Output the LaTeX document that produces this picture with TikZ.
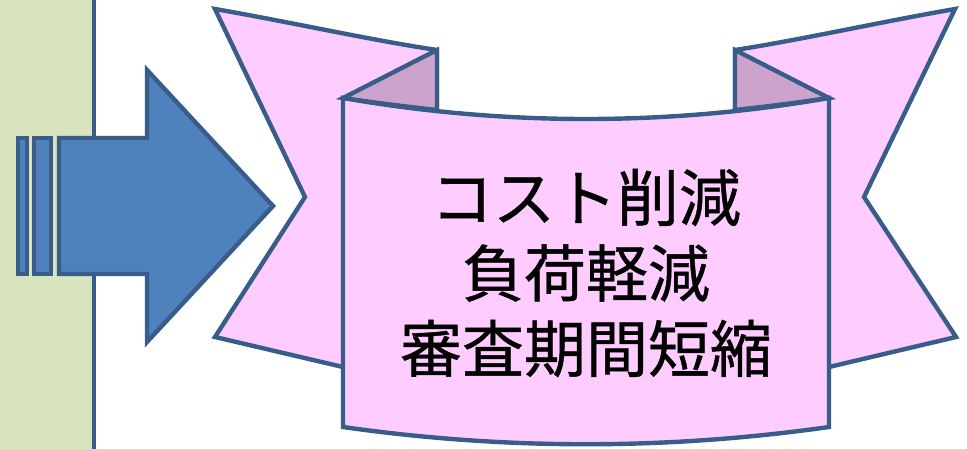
\documentclass[tikz,border=0pt]{standalone}
\usepackage{fontspec}
\newfontfamily\cjk[FakeBold=0.7]{Noto Sans CJK JP}
\definecolor{panelgreen}{HTML}{D7E4BD}
\definecolor{edgeblue}{HTML}{385D8A}
\definecolor{arrowblue}{HTML}{4F81BD}
\definecolor{ribbonpink}{HTML}{FFCCFF}
\definecolor{foldpink}{HTML}{CCA3CC}
\tikzset{
  outline/.style={draw=edgeblue, line width=4.4pt, line join=miter},
  ribbonpart/.style={outline, fill=ribbonpink},
  foldpart/.style={outline, fill=foldpink},
  arrowpart/.style={outline, fill=arrowblue},
  label/.style={font=\cjk\fontsize{62}{75.5}\selectfont, align=center, inner sep=0pt}
}
\begin{document}
\begin{tikzpicture}[x=1pt,y=-1pt]
\useasboundingbox (0,0) rectangle (967,448);
% left panel
\fill[panelgreen] (0,-5) rectangle (94,453);
\draw[edgeblue, line width=4.5pt] (94,-5) -- (94,453);
% striped arrow
\draw[arrowpart] (18,138) rectangle (27,274);
\draw[arrowpart] (34,138) rectangle (51,274);
\draw[arrowpart] (59,138) -- (147,138) -- (147,70) -- (273,206) -- (147,342) -- (147,274) -- (59,274) -- cycle;
% ribbon ears
\draw[ribbonpart] (215,9) .. controls (290,22) and (370,40) .. (437,50) -- (437,380) -- (343,367) -- (215,337) -- (305,197) -- cycle;
\draw[ribbonpart] (955,9) .. controls (880,22) and (800,40) .. (735,50) -- (735,380) -- (829,367) -- (956,337) -- (864,197) -- cycle;
% folds
\draw[foldpart] (343,98) -- (437,50) -- (437,110) .. controls (400,106) and (370,102) .. (343,98) -- cycle;
\draw[foldpart] (829,98) -- (735,50) -- (735,110) .. controls (772,106) and (802,102) .. (829,98) -- cycle;
% central panel
\draw[ribbonpart] (343,98) .. controls (505,126) and (667,126) .. (829,98) -- (829,427) .. controls (667,450) and (505,450) .. (343,427) -- cycle;
% text
\node[label] (txt) at (586,273) {コスト削減\\負荷軽減\\審査期間短縮};
\end{tikzpicture}
\end{document}
